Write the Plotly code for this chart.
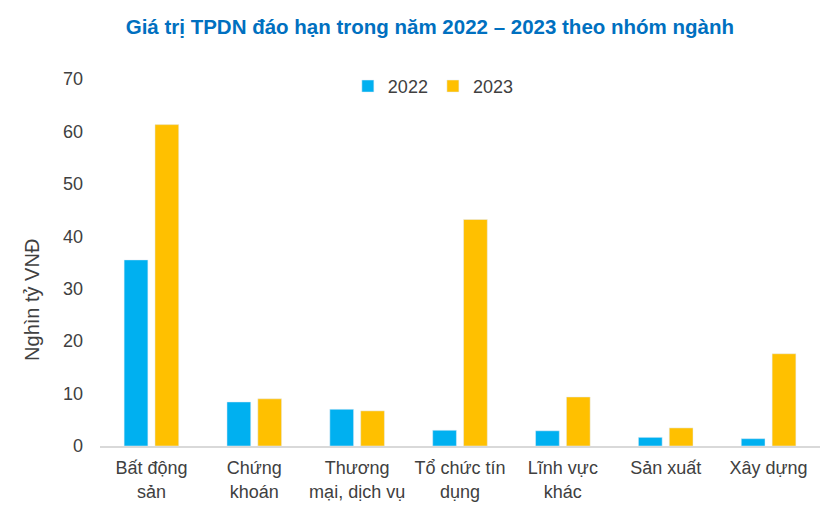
import plotly.graph_objects as go

categories = ["Bất động<br>sản", "Chứng<br>khoán", "Thương<br>mại, dịch vụ", "Tổ chức tín<br>dụng",
              "Lĩnh vực<br>khác", "Sản xuất", "Xây dựng"]
values_2022 = [35.5, 8.4, 7.0, 3.0, 2.9, 1.65, 1.4]
values_2023 = [61.3, 9.0, 6.7, 43.2, 9.35, 3.45, 17.6]
y_ticks = [0, 10, 20, 30, 40, 50, 60, 70]

fig = go.Figure()
fig.add_trace(go.Bar(name="2022", x=categories, y=values_2022, marker_color="#00B0F0"))
fig.add_trace(go.Bar(name="2023", x=categories, y=values_2023, marker_color="#FFC000"))

font_family = "Liberation Sans, Arial, sans-serif"
fig.update_layout(
    width=837, height=512,
    margin=dict(l=92, r=25, t=71, b=74),
    paper_bgcolor="white", plot_bgcolor="white",
    barmode="group", bargap=0.4, bargroupgap=0.23,
    font=dict(family=font_family, size=18, color="#404040"),
    title=dict(text="<b>Giá trị TPDN đáo hạn trong năm 2022 – 2023 theo nhóm ngành</b>",
               x=0.504, xanchor="center", y=0.963, yanchor="middle",
               font=dict(family=font_family, size=20.5, color="#0070C0")),
    legend=dict(orientation="h", x=0.463, xanchor="center", y=0.98, yanchor="middle",
                font=dict(size=18, color="#404040"), itemwidth=30, traceorder="normal"),
    xaxis=dict(showline=True, linecolor="#D9D9D9", linewidth=1.5, showgrid=False,
               ticks="", tickfont=dict(size=18, color="#404040"), ticklabelstandoff=5),
    yaxis=dict(range=[0, 70], tickvals=y_ticks, showgrid=False, zeroline=False,
               showline=False, ticks="", tickfont=dict(size=18, color="#404040"),
               ticklabelstandoff=16),
    annotations=[dict(text="Nghìn tỷ VNĐ", textangle=-90, xref="paper", yref="paper",
                      x=0, y=0.398, xanchor="center", yanchor="middle", xshift=-68,
                      showarrow=False, font=dict(size=20, color="#404040"))],
)

fig.write_html("out.html")
